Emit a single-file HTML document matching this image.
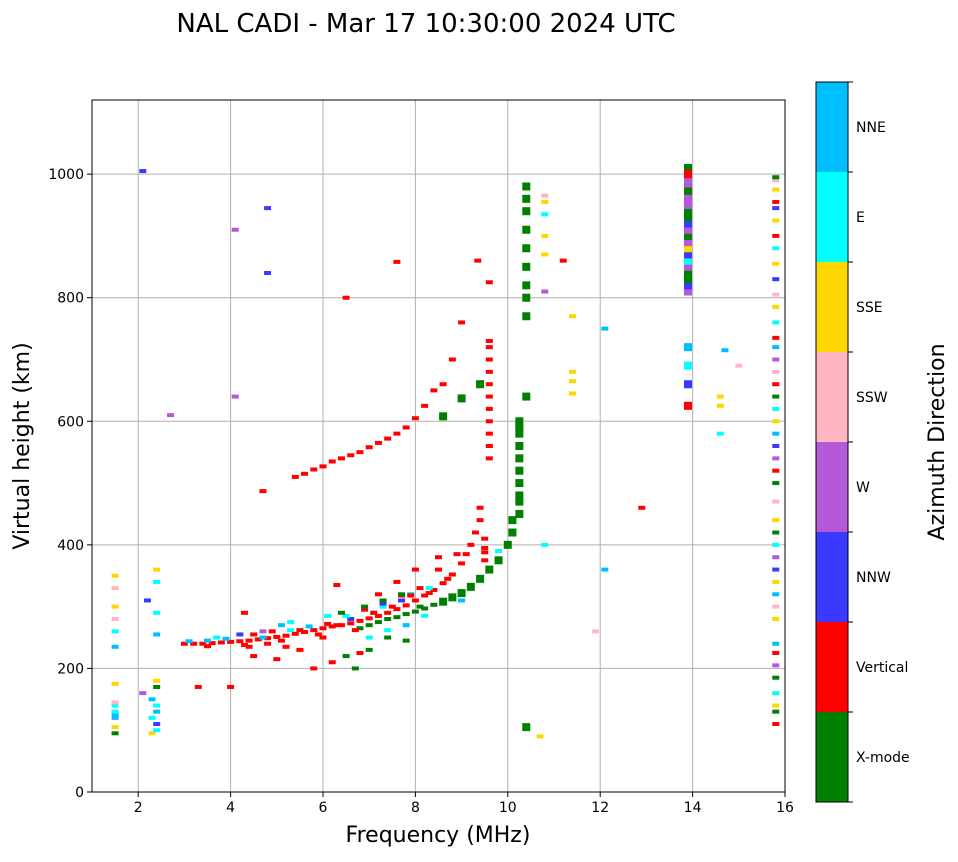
<!DOCTYPE html>
<html><head><meta charset="utf-8"><style>
body{margin:0;background:#fff;font-family:"Liberation Sans","DejaVu Sans",sans-serif}
svg text{font-family:"DejaVu Sans","Liberation Sans",sans-serif}
</style></head><body>
<svg id="chart" width="958" height="857" xmlns="http://www.w3.org/2000/svg">
<text x="426" y="32" font-size="26" text-anchor="middle">NAL CADI - Mar 17 10:30:00 2024 UTC</text>
<g id="grid"></g>
<g id="marks"></g>
<rect x="92" y="100" width="693" height="692" fill="none" stroke="#000" stroke-width="1"/>
<g id="axes"></g>
<text x="438" y="842" font-size="22" text-anchor="middle">Frequency (MHz)</text>
<text transform="translate(29,446) rotate(-90)" font-size="22" text-anchor="middle">Virtual height (km)</text>
<g id="cbar"></g>
<text transform="translate(944,442) rotate(-90)" font-size="22" text-anchor="middle">Azimuth Direction</text>
</svg>
<script>
const xTicks=[2,4,6,8,10,12,14,16];
const yTicks=[0,200,400,600,800,1000];
const modeNames=["X-mode","Vertical","NNW","W","SSW","SSE","E","NNE"];
const modeColors=["#008000","#ff0000","#3a3aff","#b45ad8","#ffb6c1","#ffd700","#00ffff","#00bfff"];
const freqs=[3.0,3.2,3.4,3.6,3.8,4.0,4.2,4.4,4.6,4.8,5.0,5.2,5.4,5.6,5.8,6.0,6.2,6.4,6.6,6.8,7.0,7.2,7.4,7.6,7.8,8.0,8.2,8.4,8.6,8.8,9.0,9.1,9.2,9.3,9.4,9.4,
3.3,4.0,4.3,4.5,5.0,5.5,5.8,6.2,6.3,6.8,7.2,7.6,8.0,8.5,
9.6,9.6,9.6,9.6,9.6,9.6,9.6,9.6,9.6,9.6,9.6,9.6,
5.4,5.6,5.8,6.0,6.2,6.4,6.6,6.8,7.0,7.2,7.4,7.6,7.8,8.0,8.2,8.4,8.6,8.8,9.0,9.35,4.7,6.5,7.6,12.9,
6.8,7.0,7.2,7.4,7.6,7.8,8.0,8.2,8.4,8.6,8.8,9.0,9.2,9.4,9.6,9.8,10.0,10.1,10.1,
10.25,10.25,10.25,10.25,10.25,10.25,10.25,10.4,9.4,8.6,9.0,
10.4,10.4,10.4,10.4,10.4,10.4,10.4,10.4,10.4,10.4,6.5,6.7,7.0,7.4,7.8,
1.5,1.5,1.5,1.5,1.5,1.5,1.5,1.5,1.5,1.5,1.5,2.3,2.3,2.3,2.4,2.4,2.4,2.4,2.4,2.4,2.4,2.1,2.2,
3.5,3.7,4.2,4.7,5.1,5.3,6.1,6.6,7.1,7.3,7.7,7.9,8.3,
13.9,13.9,13.9,13.9,13.9,13.9,13.9,13.9,13.9,13.9,13.9,13.9,13.9,13.9,13.9,13.9,13.9,13.9,13.9,13.9,13.9,13.9,13.9,13.9,13.9,
15.8,15.8,15.8,15.8,15.8,15.8,15.8,15.8,15.8,15.8,15.8,15.8,15.8,15.8,15.8,15.8,15.8,15.8,15.8,15.8,15.8,15.8,15.8,15.8,15.8,15.8,15.8,15.8,15.8,15.8,15.8,15.8,15.8,15.8,15.8,15.8,15.8,15.8,15.8,15.8,15.8,15.8,15.8,15.8,
10.8,10.8,10.8,10.8,10.8,10.8,10.8,11.4,11.4,11.4,11.2,11.4,14.6,14.6,14.6,12.1,12.1,14.7,15.0,11.9,13.9,13.9,13.9,10.7,2.1,2.7,4.1,4.1,4.8,4.8,
3.1,3.5,3.9,4.3,4.7,5.1,5.5,5.9,6.3,6.7,7.1,7.5,7.9,8.3,8.7,9.5,9.5,9.5,9.5,
4.5,4.9,5.3,5.7,6.1,6.5,6.9,7.3,7.7,8.1,8.5,8.9,6.9,7.3,7.7,8.1,6.0,6.4,5.2,4.8,4.4,
7.0,7.4,7.8,8.2,9.0,9.8,10.25,10.25,10.25,1.5,1.5,1.5,2.4,2.4,2.4];
const heights=[240,240,240,241,242,243,244,245,247,249,251,253,256,259,262,265,268,270,273,277,281,285,290,296,302,310,318,327,338,352,370,385,400,420,440,460,
170,170,290,220,215,230,200,210,335,225,320,340,360,380,
540,560,580,600,620,640,660,680,700,720,730,825,
510,515,522,527,535,540,545,550,558,565,572,580,590,605,625,650,660,700,760,860,487,800,858,460,
265,270,275,280,283,288,292,297,303,308,315,322,332,345,360,375,400,420,440,
480,500,520,540,560,580,600,640,660,608,637,
770,800,820,850,880,910,940,960,980,105,220,200,230,250,245,
95,105,120,140,175,235,260,280,300,330,350,95,120,150,170,180,255,290,340,360,100,160,310,
245,250,255,260,270,275,285,280,290,300,310,320,330,
810,820,830,840,850,860,870,880,890,900,910,920,930,940,950,960,970,980,990,1005,1010,625,660,690,720,
110,130,140,160,185,205,225,240,280,300,320,340,360,380,400,420,440,470,500,520,540,560,580,600,620,640,660,680,700,720,735,760,785,805,830,855,880,900,925,945,955,975,990,995,
810,870,900,935,955,965,400,645,665,680,860,770,580,625,640,750,360,715,690,260,960,1000,985,90,1005,610,910,640,945,840,
244,236,248,238,250,245,262,255,270,262,290,300,318,322,345,375,395,388,410,
255,260,262,268,272,285,295,305,318,330,360,385,300,310,320,300,250,290,235,240,235,
250,262,270,285,310,390,450,470,590,125,130,145,140,110,130];
const modes=[1,1,1,1,1,1,1,1,1,1,1,1,1,1,1,1,1,1,1,1,1,1,1,1,1,1,1,1,1,1,1,1,1,1,1,1,
1,1,1,1,1,1,1,1,1,1,1,1,1,1,
1,1,1,1,1,1,1,1,1,1,1,1,
1,1,1,1,1,1,1,1,1,1,1,1,1,1,1,1,1,1,1,1,1,1,1,1,
0,0,0,0,0,0,0,0,0,0,0,0,0,0,0,0,0,0,0,
0,0,0,0,0,0,0,0,0,0,0,
0,0,0,0,0,0,0,0,0,0,0,0,0,0,0,
0,5,7,6,5,7,6,4,5,4,5,5,6,7,0,5,7,6,6,5,6,3,2,
7,6,2,3,7,6,6,2,7,6,2,7,6,
3,2,0,0,3,6,2,5,3,0,3,2,0,0,3,2,0,0,3,2,0,1,2,6,7,
1,0,5,6,0,3,1,7,5,4,7,5,2,3,6,0,5,4,0,1,3,2,7,5,6,0,1,4,3,7,1,6,5,4,2,5,6,1,5,2,1,5,4,0,
3,5,5,6,5,4,6,5,5,5,1,5,6,5,5,7,7,7,4,4,3,1,3,5,2,3,3,3,2,2,
7,1,7,1,7,1,1,1,1,1,1,1,1,1,1,1,1,1,1,
1,1,6,7,1,6,1,2,1,1,1,1,0,0,0,0,1,0,1,1,1,
6,6,7,6,7,6,0,0,0,7,6,4,6,2,7];
const NS="http://www.w3.org/2000/svg";
const X0=92,X1=785,Y0=792,Y1=100,FMIN=1,FMAX=16,HMIN=0,HMAX=1120;
function xs(f){return X0+(f-FMIN)/(FMAX-FMIN)*(X1-X0);}
function ys(h){return Y0-(h-HMIN)/(HMAX-HMIN)*(Y0-Y1);}
function mk(t,a,p){const e=document.createElementNS(NS,t);for(const k in a)e.setAttribute(k,a[k]);p.appendChild(e);return e;}
const grid=document.getElementById('grid'),axes=document.getElementById('axes'),marks=document.getElementById('marks'),cbar=document.getElementById('cbar');
xTicks.forEach(t=>{const x=xs(t);
 const g=mk('line',{x1:x,x2:x,y1:Y1,y2:Y0,stroke:'#b0b0b0','stroke-width':1},grid);
 
 
 mk('line',{x1:x,x2:x,y1:Y0,y2:Y0+5,stroke:'#000'},axes);
 const l=mk('text',{x:x,y:Y0+20,'font-size':14,'text-anchor':'middle'},axes);l.textContent=t;
 
 });
yTicks.forEach(t=>{const y=ys(t);
 const g=mk('line',{x1:X0,x2:X1,y1:y,y2:y,stroke:'#b0b0b0','stroke-width':1},grid);
 
 
 mk('line',{x1:X0-5,x2:X0,y1:y,y2:y,stroke:'#000'},axes);
 const l=mk('text',{x:X0-8,y:y+5,'font-size':14,'text-anchor':'end'},axes);l.textContent=t;
 
 });
for(let i=0;i<freqs.length;i++){
 const big=(modes[i]===0&&freqs[i]>8.4&&freqs[i]<10.5)||(freqs[i]===13.9);
 const w=big?8:7,h=big?8:4;
 const r=mk('rect',{x:xs(freqs[i])-w/2,y:ys(heights[i])-h/2,width:w,height:h,fill:modeColors[modes[i]]},marks);
 
 }
const CX=816,CW=32,CT=82,CB=802,seg=(CB-CT)/8;
modeNames.forEach((n,i)=>{const y=CB-(i+1)*seg;
 const r=mk('rect',{x:CX,y:y,width:CW,height:seg,fill:modeColors[i]},cbar);
 
 
 mk('line',{x1:CX+CW,x2:CX+CW+5,y1:y,y2:y,stroke:'#000'},cbar);
 const l=mk('text',{x:CX+CW+8,y:y+seg/2+5,'font-size':14},cbar);l.textContent=n;
 
 });
mk('line',{x1:CX+CW,x2:CX+CW+5,y1:CB,y2:CB,stroke:'#000'},cbar);
mk('rect',{x:CX,y:CT,width:CW,height:CB-CT,fill:'none',stroke:'#000'},cbar);
</script>
</body></html>
